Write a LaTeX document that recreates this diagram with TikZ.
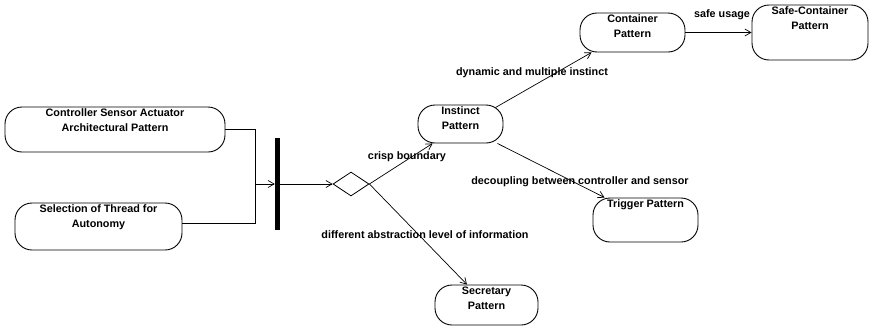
\documentclass[tikz,border=0pt]{standalone}
\usepackage{fontspec}
\setmainfont{Liberation Sans}
\usetikzlibrary{arrows.meta,shapes.geometric,calc}
\begin{document}
\begin{tikzpicture}[x=1pt,y=-1pt,
  every node/.style={font=\bfseries\fontsize{10.8}{15}\selectfont},
  state/.style={draw, line width=0.9pt, rounded corners=17pt, inner sep=0pt},
  ttl/.style={label={[anchor=north,inner sep=0pt,align=center,label distance=-2pt]north:{#1}}},
  conn/.style={line width=0.7pt, -{Straight Barb[length=6pt,width=7pt]}},
  line/.style={line width=0.7pt},
  lbl/.style={inner sep=0pt}
]
\useasboundingbox (0,0) rectangle (873,327);
% states
\node[state, minimum width=220pt, minimum height=45pt, ttl={Controller Sensor Actuator\\Architectural Pattern}] (csa) at (115,129.5) {};
\node[state, minimum width=167pt, minimum height=47pt, ttl={Selection of Thread for\\Autonomy}] (sel) at (98.5,226.5) {};
\node[state, minimum width=85pt, minimum height=38pt, ttl={Instinct\\Pattern}] (inst) at (460.5,124) {};
\node[state, minimum width=105pt, minimum height=39pt, ttl={Container\\Pattern}] (cont) at (632.5,32.5) {};
\node[state, minimum width=116pt, minimum height=55pt, ttl={Safe-Container\\Pattern}] (safe) at (810,32.5) {};
\node[state, minimum width=105pt, minimum height=44pt, ttl={Trigger Pattern}] (trig) at (645.5,220) {};
\node[state, minimum width=103pt, minimum height=40pt, ttl={Secretary\\Pattern}] (sec) at (486.5,305) {};
% fork bar and decision diamond
\node[fill, minimum width=5pt, minimum height=92pt, inner sep=0pt] (bar) at (277.5,184) {};
\node[draw, diamond, line width=0.8pt, minimum width=36pt, minimum height=24pt, inner sep=0pt] (dia) at (351,184) {};
\coordinate (j) at (255,184);
% connectors
\draw[line] ($(sel.east)+(0,-3)$) -| (j);
\draw[conn] (csa.east) -| (j) -- (bar.west);
\draw[conn] (bar.east) -- (dia.west);
\draw[conn] (dia.east) -- ($(inst.south west)+(15,0)$);
\draw[conn] (dia.east) -- ($(sec.north)+(-19.5,0)$);
\draw[conn] ($(inst.north east)+(-8,3)$) -- ($(cont.south west)+(12,0)$);
\draw[conn] ($(inst.south east)+(-6,0)$) -- ($(trig.north west)+(12,0)$);
\draw[conn] (cont.east) -- (safe.west);
% labels
\node[lbl] (l1) at (407,157) {crisp boundary};
\node[lbl] (l2) at (425,235) {different abstraction level of information};
\node[lbl] (l3) at (532,73) {dynamic and multiple instinct};
\node[lbl] (l4) at (580,182) {decoupling between controller and sensor};
\node[lbl] (l5) at (722,15) {safe usage};
\end{tikzpicture}
\end{document}
